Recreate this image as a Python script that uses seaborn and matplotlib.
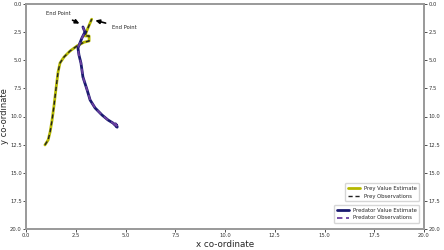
import matplotlib
matplotlib.use("Agg")
import matplotlib.pyplot as plt
import seaborn as sns
import pandas as pd

# Prey path (estimate and observations share the same track)
prey_x = [0.95, 1.11, 1.21, 1.31, 1.41, 1.51, 1.61, 1.71, 1.91, 2.21, 2.56, 2.91, 3.17, 3.17, 2.96, 3.07, 3.30]
prey_y = [12.53, 12.09, 11.38, 10.31, 8.98, 7.47, 6.04, 5.24, 4.71, 4.18, 3.73, 3.40, 3.29, 2.84, 2.84, 2.31, 1.35]

# Predator path
pred_x = [4.57, 4.50, 4.58, 4.37, 4.12, 3.82, 3.47, 3.22, 3.07, 2.86, 2.76, 2.66, 2.61, 2.81, 2.96, 2.86]
pred_y = [10.84, 10.65, 10.95, 10.58, 10.31, 9.87, 9.24, 8.53, 7.64, 6.49, 5.24, 4.53, 3.91, 3.02, 2.49, 2.04]

ticks = [0.0, 2.5, 5.0, 7.5, 10.0, 12.5, 15.0, 17.5, 20.0]

prey_df = pd.DataFrame({"x": prey_x, "y": prey_y})
pred_df = pd.DataFrame({"x": pred_x, "y": pred_y})

sns.set_style("white")
fig = plt.figure(figsize=(4.44, 2.5), dpi=100)
ax = fig.add_axes([0.0586, 0.084, 0.8964, 0.9])

sns.lineplot(data=prey_df, x="x", y="y", sort=False, estimator=None, ax=ax,
             color="#b5b800", linewidth=2.0, label="Prey Value Estimate")
sns.lineplot(data=prey_df, x="x", y="y", sort=False, estimator=None, ax=ax,
             color="#222222", linewidth=1.0, linestyle=(0, (3, 2)), label="Prey Observations")
sns.lineplot(data=pred_df, x="x", y="y", sort=False, estimator=None, ax=ax,
             color="#1a1a70", linewidth=2.0, label="Predator Value Estimate")
sns.lineplot(data=pred_df, x="x", y="y", sort=False, estimator=None, ax=ax,
             color="#6b3fa0", linewidth=1.3, linestyle=(0, (3, 2)), label="Predator Observations")

handles, labels = ax.get_legend_handles_labels()
if ax.get_legend() is not None:
    ax.get_legend().remove()
leg1 = ax.legend(handles[:2], labels[:2], loc="lower right", bbox_to_anchor=(0.995, 0.112),
                 fontsize=3.8, frameon=True, handlelength=2.2, borderpad=0.5, labelspacing=0.5)
ax.add_artist(leg1)
ax.legend(handles[2:], labels[2:], loc="lower right", bbox_to_anchor=(0.995, 0.015),
          fontsize=3.8, frameon=True, handlelength=2.2, borderpad=0.5, labelspacing=0.5)

ax.annotate("End Point", xy=(2.81, 1.85), xytext=(1.0, 0.95), fontsize=3.8,
            arrowprops=dict(arrowstyle="-|>", color="black", lw=1.2, mutation_scale=6))
ax.annotate("End Point", xy=(3.35, 1.40), xytext=(4.3, 2.25), fontsize=3.8,
            arrowprops=dict(arrowstyle="-|>", color="black", lw=1.2, mutation_scale=6))

ax.set_xlim(0, 20)
ax.set_ylim(20, 0)
ax.set_xticks(ticks)
ax.set_yticks(ticks)
ax.set_xticklabels([f"{t:.1f}" for t in ticks])
ax.set_yticklabels([f"{t:.1f}" for t in ticks])
ax.tick_params(axis="both", labelsize=3.8, length=2, width=0.6, pad=1.0, colors="#333333",
               left=True, bottom=True, right=True, labelright=True)
for s in ax.spines.values():
    s.set_color("#999999")
    s.set_linewidth(1.4)

ax.set_xlabel("x co-ordinate", fontsize=6.3, labelpad=1)
ax.set_ylabel("y co-ordinate", fontsize=6.0, va="center")
ax.yaxis.set_label_coords(-0.053, 0.5)

fig.savefig("out.png", dpi=100)
